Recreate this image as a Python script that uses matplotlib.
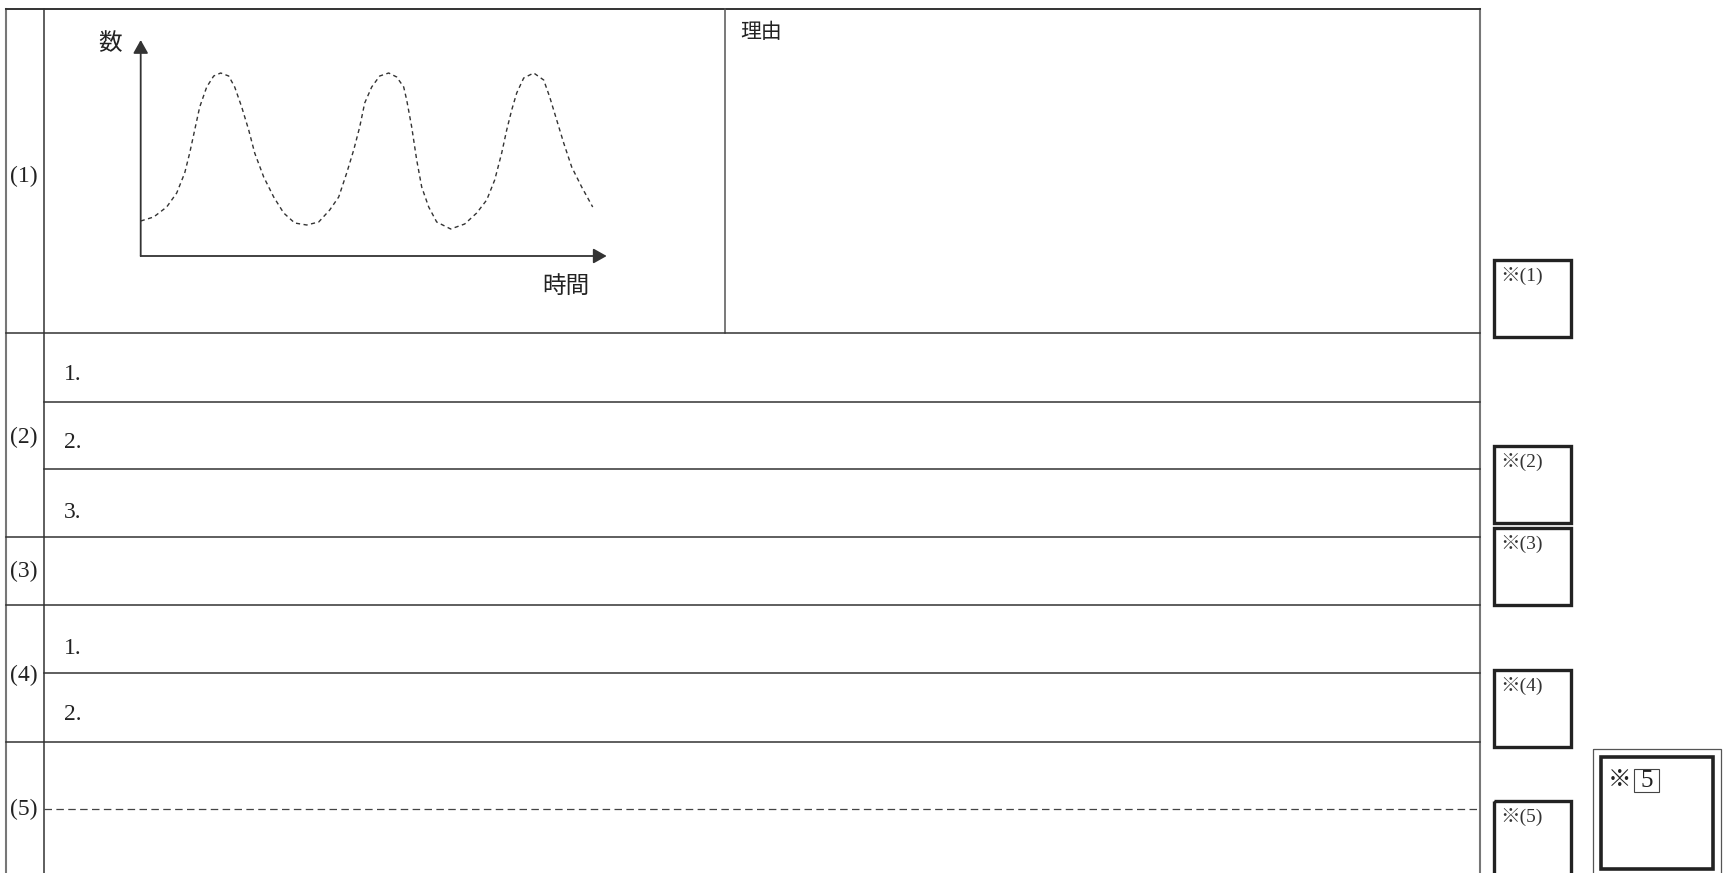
import matplotlib.pyplot as plt
from matplotlib.patches import Rectangle

# dashed curve in the small graph of (1): time vs count
t = [0, 13, 26, 36, 44, 49, 54, 59, 66, 73,
     80, 88, 94, 101, 108, 114, 123, 133, 143, 154,
     166, 178, 189, 198, 206, 213, 219, 224, 231, 239,
     248, 256, 263, 266, 271, 276, 281, 288, 296, 310,
     324, 336, 346, 354, 361, 366, 371, 376, 383, 393,
     403, 409, 416, 423, 431, 441, 452]
count = [35, 39, 49, 63, 83, 103, 126, 149, 169, 180,
         183, 180, 169, 149, 126, 103, 79, 59, 43, 33,
         31, 34, 46, 59, 83, 106, 129, 153, 169, 180,
         183, 179, 169, 156, 129, 96, 69, 49, 34, 27,
         32, 43, 56, 76, 103, 126, 146, 163, 178, 183,
         176, 159, 136, 113, 89, 69, 49]

row_labels = ["(1)", "(2)", "(3)", "(4)", "(5)"]
sub_labels = ["1.", "2.", "3.", "1.", "2."]
score_labels = ["※(1)", "※(2)", "※(3)", "※(4)", "※(5)"]

W, H = 1732, 873
SERIF = ["Liberation Serif", "Noto Sans CJK JP"]
JP = ["Noto Sans CJK JP", "DejaVu Sans"]
LINE = "#333333"

fig = plt.figure(figsize=(W / 100, H / 100), dpi=100)
ax = fig.add_axes([0, 0, 1, 1])
ax.set_xlim(0, W)
ax.set_ylim(H, 0)
ax.axis("off")

x0, xd, xr = 6, 44, 1480
top = 9
# outer frame
ax.plot([x0, x0], [top, H], color="#777777", lw=1.5)
ax.plot([xr, xr], [top, H], color="#777777", lw=1.5)
ax.plot([xd, xd], [top, H], color=LINE, lw=1.1)
ax.plot([x0, xr], [top, top], color=LINE, lw=1.4)
ax.plot([725, 725], [top, 333], color="#555555", lw=1.1)

# full-width row lines and sub-row lines
for y in [333, 537, 605, 742]:
    ax.plot([x0, xr], [y, y], color=LINE, lw=1.1)
for y in [402, 469, 673]:
    ax.plot([xd, xr], [y, y], color=LINE, lw=1.1)
ax.plot([xd, xr], [809, 809], color="#444444", lw=0.9, ls=(0, (6, 3.5)))

# labels in the left column
label_y = [176, 437, 571, 675, 809]
for lab, y in zip(row_labels, label_y):
    ax.text(24, y, lab, family=SERIF, fontsize=17, color="#222222",
            ha="center", va="center")

sub_y = [375, 443, 512, 648, 714]
for lab, y in zip(sub_labels, sub_y):
    ax.text(64, y, lab, family=SERIF, fontsize=17, color="#222222",
            ha="left", va="center")

ax.text(740, 32, "理由", family=JP, fontsize=15, color="#222222",
        ha="left", va="center")

# score boxes on the right
box_top = [260, 446, 528, 670, 801]
for lab, y in zip(score_labels, box_top):
    ax.add_patch(Rectangle((1494, y), 77, 77, fill=False, lw=2.4,
                           edgecolor="#222222"))
    ax.text(1500, y + 16, lab, family=SERIF, fontsize=14,
            color="#333333", ha="left", va="center")

ax.add_patch(Rectangle((1593, 749), 128, 140, fill=False, lw=0.9,
                       edgecolor="#555555"))
ax.add_patch(Rectangle((1601, 757), 112, 112, fill=False, lw=2.6,
                       edgecolor="#222222"))
ax.text(1620, 780, "※", family=JP, fontsize=17, color="#222222",
        ha="center", va="center")
ax.add_patch(Rectangle((1634, 769), 25, 23, fill=False, lw=0.8,
                       edgecolor="#444444"))
ax.text(1646.5, 781, "5", family=SERIF, fontsize=18, color="#222222",
        ha="center", va="center")

# small graph in (1)
gx0, gy0, gw, gh = 140.7, 256, 466, 216
g = fig.add_axes([gx0 / W, (H - gy0) / H, gw / W, gh / H])
g.set_xlim(0, gw)
g.set_ylim(0, gh)
g.axis("off")
g.plot(t, count, color="#333333", lw=1.0, ls=(0, (3, 2.5)))
arrow = dict(arrowstyle="-|>,head_length=0.8,head_width=0.45",
             color="#333333", lw=1.3, mutation_scale=10, shrinkA=0, shrinkB=0)
g.annotate("", xy=(0, gh), xytext=(0, 0), arrowprops=arrow,
           annotation_clip=False)
g.annotate("", xy=(gw, 0), xytext=(0, 0), arrowprops=arrow,
           annotation_clip=False)

ax.text(110, 44, "数", family=JP, fontsize=17, color="#222222",
        ha="center", va="center")
ax.text(566, 286, "時間", family=JP, fontsize=17, color="#222222",
        ha="center", va="center")

fig.savefig("out.png", dpi=100)
